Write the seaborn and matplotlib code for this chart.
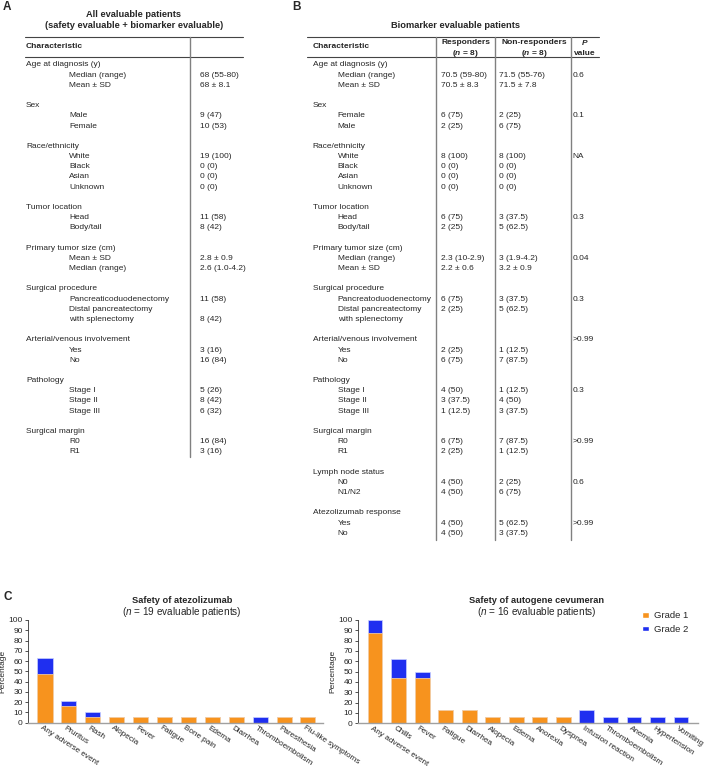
import matplotlib
matplotlib.use("Agg")
import matplotlib.pyplot as plt
import seaborn as sns
import pandas as pd
from matplotlib.patches import Patch
from matplotlib.transforms import ScaledTranslation

sns.set_theme(style="ticks")
plt.rcParams['font.family'] = ['Liberation Sans', 'DejaVu Sans']
plt.rcParams['mathtext.fontset'] = 'custom'
plt.rcParams['mathtext.rm'] = 'Liberation Sans'
plt.rcParams['mathtext.it'] = 'Liberation Sans:italic'
plt.rcParams['mathtext.bf'] = 'Liberation Sans:bold'
plt.rcParams['mathtext.bfit'] = 'Liberation Sans:bold:italic'

# ---------------- Table A data ----------------
a_title = ["All evaluable patients", "(safety evaluable + biomarker evaluable)"]
a_labels = ["Age at diagnosis (y)", "\tMedian (range)", "\tMean ± SD", "",
            "Sex", "\tMale", "\tFemale", "",
            "Race/ethnicity", "\tWhite", "\tBlack", "\tAsian", "\tUnknown", "",
            "Tumor location", "\tHead", "\tBody/tail", "",
            "Primary tumor size (cm)", "\tMean ± SD", "\tMedian (range)", "",
            "Surgical procedure", "\tPancreaticoduodenectomy", "\tDistal pancreatectomy", "\twith splenectomy", "",
            "Arterial/venous involvement", "\tYes", "\tNo", "",
            "Pathology", "\tStage I", "\tStage II", "\tStage III", "",
            "Surgical margin", "\tR0", "\tR1"]
a_values = ["", "68 (55-80)", "68 ± 8.1", "",
            "", "9 (47)", "10 (53)", "",
            "", "19 (100)", "0 (0)", "0 (0)", "0 (0)", "",
            "", "11 (58)", "8 (42)", "",
            "", "2.8 ± 0.9", "2.6 (1.0-4.2)", "",
            "", "11 (58)", "", "8 (42)", "",
            "", "3 (16)", "16 (84)", "",
            "", "5 (26)", "8 (42)", "6 (32)", "",
            "", "16 (84)", "3 (16)"]

# ---------------- Table B data ----------------
b_title = "Biomarker evaluable patients"
b_headers = ["Characteristic", "Responders\n($\\mathbfit{n}$ = 8)",
             "Non-responders\n($\\mathbfit{n}$ = 8)", "$\\mathbfit{P}$\nvalue"]
b_labels = ["Age at diagnosis (y)", "\tMedian (range)", "\tMean ± SD", "",
            "Sex", "\tFemale", "\tMale", "",
            "Race/ethnicity", "\tWhite", "\tBlack", "\tAsian", "\tUnknown", "",
            "Tumor location", "\tHead", "\tBody/tail", "",
            "Primary tumor size (cm)", "\tMedian (range)", "\tMean ± SD", "",
            "Surgical procedure", "\tPancreatoduodenectomy", "\tDistal pancreatectomy", "\twith splenectomy", "",
            "Arterial/venous involvement", "\tYes", "\tNo", "",
            "Pathology", "\tStage I", "\tStage II", "\tStage III", "",
            "Surgical margin", "\tR0", "\tR1", "",
            "Lymph node status", "\tN0", "\tN1/N2", "",
            "Atezolizumab response", "\tYes", "\tNo"]
b_resp = ["", "70.5 (59-80)", "70.5 ± 8.3", "",
          "", "6 (75)", "2 (25)", "",
          "", "8 (100)", "0 (0)", "0 (0)", "0 (0)", "",
          "", "6 (75)", "2 (25)", "",
          "", "2.3 (10-2.9)", "2.2 ± 0.6", "",
          "", "6 (75)", "2 (25)", "", "",
          "", "2 (25)", "6 (75)", "",
          "", "4 (50)", "3 (37.5)", "1 (12.5)", "",
          "", "6 (75)", "2 (25)", "",
          "", "4 (50)", "4 (50)", "",
          "", "4 (50)", "4 (50)"]
b_nonresp = ["", "71.5 (55-76)", "71.5 ± 7.8", "",
             "", "2 (25)", "6 (75)", "",
             "", "8 (100)", "0 (0)", "0 (0)", "0 (0)", "",
             "", "3 (37.5)", "5 (62.5)", "",
             "", "3 (1.9-4.2)", "3.2 ± 0.9", "",
             "", "3 (37.5)", "5 (62.5)", "", "",
             "", "1 (12.5)", "7 (87.5)", "",
             "", "1 (12.5)", "4 (50)", "3 (37.5)", "",
             "", "7 (87.5)", "1 (12.5)", "",
             "", "2 (25)", "6 (75)", "",
             "", "5 (62.5)", "3 (37.5)"]
b_pval = ["", "0.6", "", "",
          "", "0.1", "", "",
          "", "NA", "", "", "", "",
          "", "0.3", "", "",
          "", "0.04", "", "",
          "", "0.3", "", "", "",
          ">0.99", "", "", "",
          "", "0.3", "", "", "",
          "", ">0.99", "", "",
          "", "0.6", "", "",
          "", ">0.99", ""]

# ---------------- Panel C data ----------------
atezo_events = ["Any adverse event", "Pruritus", "Rash", "Alopecia", "Fever", "Fatigue",
                "Bone pain", "Edema", "Diarrhea", "Thromboembolism", "Paresthesia",
                "Flu-like symptoms"]
atezo_g1 = [47.4, 15.8, 5.3, 5.3, 5.3, 5.3, 5.3, 5.3, 5.3, 0.0, 5.3, 5.3]
atezo_g2 = [15.8, 5.3, 5.3, 0.0, 0.0, 0.0, 0.0, 0.0, 0.0, 5.3, 0.0, 0.0]

cevu_events = ["Any adverse event", "Chills", "Fever", "Fatigue", "Diarrhea", "Alopecia",
               "Edema", "Anorexia", "Dyspnea", "Infusion reaction", "Thromboembolism",
               "Anemia", "Hypertension", "Vomiting"]
cevu_g1 = [87.5, 43.8, 43.8, 12.5, 12.5, 6.3, 6.3, 6.3, 6.3, 0.0, 0.0, 0.0, 0.0, 0.0]
cevu_g2 = [12.5, 18.8, 6.3, 0.0, 0.0, 0.0, 0.0, 0.0, 0.0, 12.5, 6.3, 6.3, 6.3, 6.3]

grade_labels = ["Grade 1", "Grade 2"]
ORANGE = "#F7931E"
BLUE = "#1F2FF0"

W, H = 706, 767
fig = plt.figure(figsize=(W / 100, H / 100), dpi=100)
ov = fig.add_axes([0, 0, 1, 1])
ov.set_xlim(0, W)
ov.set_ylim(H, 0)
ov.axis("off")
ov.patch.set_alpha(0)

FS = 6.0
TFS = 6.7
ROW0, PITCH = 65.0, 10.18
HL = dict(color="#444444", lw=0.8)
VL = dict(color="#808080", lw=1.0)

# panel letters
for letter, (x, y) in zip("ABC", [(3, 7), (292, 7), (3, 597)]):
    ov.text(x, y, letter, fontsize=8.5, fontweight="bold", va="center", ha="left")

# ---- Table A ----
ov.text(134, 14.3, a_title[0], fontsize=TFS, fontweight="bold", ha="center", va="center")
ov.text(134, 26.0, a_title[1], fontsize=TFS, fontweight="bold", ha="center", va="center")
ov.plot([25, 242.7], [37.3, 37.3], **HL)
ov.plot([25, 242.7], [57.3, 57.3], **HL)
ov.plot([190, 190], [37.3, 456.7], **VL)
ov.text(26, 47, "Characteristic", fontsize=FS, fontweight="bold", va="center")
for i, (lab, val) in enumerate(zip(a_labels, a_values)):
    y = ROW0 + i * PITCH
    if lab.startswith("\t"):
        ov.text(69.3, y, lab[1:], fontsize=FS, va="center")
    elif lab:
        ov.text(26, y, lab, fontsize=FS, va="center")
    if val:
        ov.text(200, y, val, fontsize=FS, va="center")

# ---- Table B ----
ov.text(455.7, 25.3, b_title, fontsize=TFS, fontweight="bold", ha="center", va="center")
ov.plot([307.3, 599.3], [37.0, 37.0], **HL)
ov.plot([307.3, 599.3], [57.3, 57.3], **HL)
for xv in [435.7, 495.3, 570.7]:
    ov.plot([xv, xv], [37.0, 540.0], **VL)
ov.text(312.7, 47, b_headers[0], fontsize=FS, fontweight="bold", va="center")
for xc, hdr in zip([465.7, 534.3, 585.0], b_headers[1:]):
    l1, l2 = hdr.split("\n")
    ov.text(xc, 42.7, l1, fontsize=FS, fontweight="bold", ha="center", va="center")
    ov.text(xc, 53.3, l2, fontsize=FS, fontweight="bold", ha="center", va="center")
for i, lab in enumerate(b_labels):
    y = ROW0 + i * PITCH
    if lab.startswith("\t"):
        ov.text(337.7, y, lab[1:], fontsize=FS, va="center")
    elif lab:
        ov.text(312.7, y, lab, fontsize=FS, va="center")
    for xv, col in zip([440.7, 499.0, 572.7], [b_resp, b_nonresp, b_pval]):
        if col[i]:
            ov.text(xv, y, col[i], fontsize=FS, va="center")

# ---- Panel C ----
def draw_bars(rect, events, g1, g2, xlim, title, sub, title_x):
    ax = fig.add_axes(rect)
    df = pd.DataFrame({"event": events, "g1": g1,
                       "total": [a + b for a, b in zip(g1, g2)]})
    sns.barplot(data=df, x="event", y="total", order=events, color=BLUE, saturation=1,
                width=0.63, edgecolor="#c9d0ff", linewidth=0.5, ax=ax)
    sns.barplot(data=df, x="event", y="g1", order=events, color=ORANGE, saturation=1,
                width=0.63, edgecolor="#ffd9a8", linewidth=0.5, ax=ax)
    ax.set_xlim(*xlim)
    ax.set_ylim(0, 100)
    ax.set_yticks(range(0, 101, 10))
    ax.set_xlabel("")
    ax.set_ylabel("Percentage", fontsize=FS, labelpad=1.5)
    ax.set_xticks(range(len(events)))
    ax.set_xticklabels(events, rotation=-33, ha="left", va="top",
                       rotation_mode="anchor", fontsize=5.9)
    ax.tick_params(axis="y", labelsize=FS, length=2.5, width=0.6, pad=1, color="#333333")
    ax.tick_params(axis="x", length=0, pad=1.2)
    shift = ScaledTranslation(-2.5 / 100, 0, fig.dpi_scale_trans)
    for lbl in ax.get_xticklabels():
        lbl.set_transform(lbl.get_transform() + shift)
    for s in ["top", "right"]:
        ax.spines[s].set_visible(False)
    ax.spines["left"].set_color("#333333")
    ax.spines["left"].set_linewidth(0.6)
    ax.spines["bottom"].set_color("#a0a0a0")
    ax.spines["bottom"].set_linewidth(1.0)
    ax.patch.set_alpha(0)
    ov.text(title_x, 600.3, title, fontsize=TFS, fontweight="bold", ha="center", va="center")
    ov.text(title_x, 611.7, sub, fontsize=7.2, ha="center", va="center")
    return ax

draw_bars([27.7 / W, 1 - 722.7 / H, (323 - 27.7) / W, (722.7 - 620) / H],
          atezo_events, atezo_g1, atezo_g2, (-0.724, 11.63),
          "Safety of atezolizumab", "($\\mathit{n}$ = 19 evaluable patients)", 181.7)
draw_bars([357.7 / W, 1 - 723.3 / H, (698 - 357.7) / W, (723.3 - 620) / H],
          cevu_events, cevu_g1, cevu_g2, (-0.735, 13.72),
          "Safety of autogene cevumeran", "($\\mathit{n}$ = 16 evaluable patients)", 536.7)

fig.legend(handles=[Patch(facecolor=ORANGE, label=grade_labels[0]),
                    Patch(facecolor=BLUE, label=grade_labels[1])],
           loc="upper left", bbox_to_anchor=(641.7 / W, 1 - 611.5 / H),
           frameon=False, fontsize=6.8, handlelength=0.8, handleheight=0.5,
           handletextpad=0.5, labelspacing=0.45, borderpad=0, borderaxespad=0)

fig.savefig("out.png", dpi=100)
